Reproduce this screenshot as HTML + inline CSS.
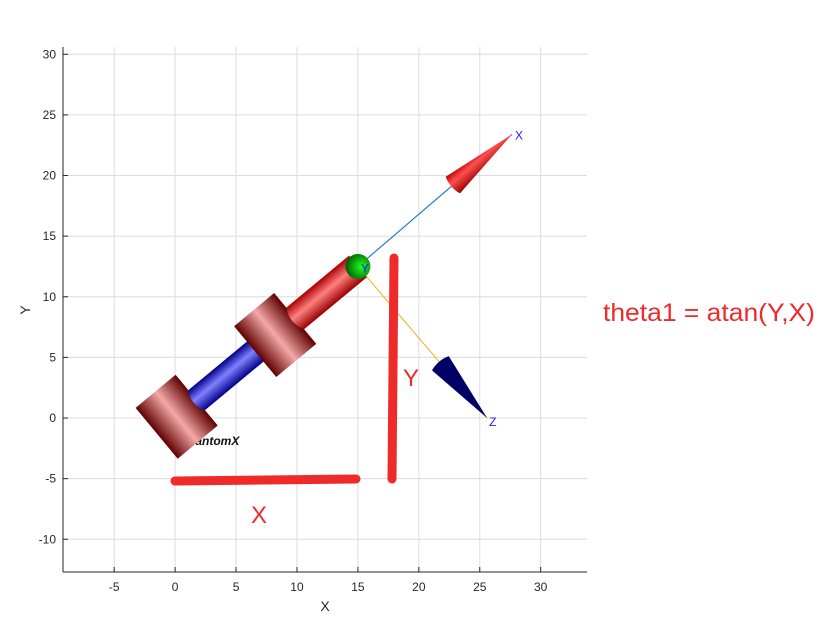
<!DOCTYPE html>
<html><head><meta charset="utf-8"><style>
body{margin:0;background:#fff;}
svg{display:block;font-family:"Liberation Sans",sans-serif;}
</style></head><body>
<svg width="834" height="643" id="svg">
<defs>
<linearGradient id="gRed" x1="0" y1="0" x2="1" y2="0"><stop offset="0" stop-color="#600000"/><stop offset="0.5" stop-color="#f4a8a8"/><stop offset="1" stop-color="#600000"/></linearGradient>
<linearGradient id="gBlue" x1="0" y1="0" x2="0" y2="1"><stop offset="0" stop-color="#00008a"/><stop offset="0.45" stop-color="#8080ff"/><stop offset="1" stop-color="#00008a"/></linearGradient>
<linearGradient id="gLink" x1="0" y1="0" x2="0" y2="1"><stop offset="0" stop-color="#a00"/><stop offset="0.45" stop-color="#ff8080"/><stop offset="1" stop-color="#900"/></linearGradient>
<radialGradient id="gGreen" cx="0.6" cy="0.6" r="0.6"><stop offset="0" stop-color="#2f2"/><stop offset="1" stop-color="#060"/></radialGradient>
<linearGradient id="gCone" x1="0" y1="0" x2="0" y2="1"><stop offset="0" stop-color="#b00"/><stop offset="0.4" stop-color="#ff5050"/><stop offset="1" stop-color="#900"/></linearGradient>
</defs>
<g id="grid"></g>
<g id="axes"></g>
<g id="robot"></g>
<g id="anno"></g>
</svg>
<script>
const xTicks=[-5,0,5,10,15,20,25,30];
const yTicks=[-10,-5,0,5,10,15,20,25,30];
const joint=[15,12.5];
const xAxisTip=[27.65,23.4];
const zAxisTip=[25.6,0];
const xlim=[-9.2,33.8], ylim=[-12.7,30.6];
const L=63,R=587,T=47,B=572;
const px=x=>L+(x-xlim[0])/(xlim[1]-xlim[0])*(R-L);
const py=y=>B-(y-ylim[0])/(ylim[1]-ylim[0])*(B-T);
const NS="http://www.w3.org/2000/svg";
function mk(tag,attrs,parent,txt){const e=document.createElementNS(NS,tag);for(const k in attrs)e.setAttribute(k,attrs[k]);if(txt!==undefined)e.textContent=txt;parent.appendChild(e);return e;}
const grid=document.getElementById('grid'),axes=document.getElementById('axes');
xTicks.forEach(t=>{
 const g=mk('line',{x1:px(t),x2:px(t),y1:T,y2:B,stroke:'#dcdcdc','stroke-width':1},grid);
 
 
 mk('line',{x1:px(t),x2:px(t),y1:B,y2:B-5,stroke:'#262626'},axes);
 const l=mk('text',{x:px(t),y:B+19,'text-anchor':'middle','font-size':12,fill:'#262626'},axes,String(t));
 
 
});
yTicks.forEach(t=>{
 const g=mk('line',{x1:L,x2:R,y1:py(t),y2:py(t),stroke:'#dcdcdc','stroke-width':1},grid);
 
 
 mk('line',{x1:L,x2:L+5,y1:py(t),y2:py(t),stroke:'#262626'},axes);
 const l=mk('text',{x:L-7,y:py(t)+4,'text-anchor':'end','font-size':12,fill:'#262626'},axes,String(t));
 
 
});
mk('line',{x1:L,x2:R,y1:B,y2:B,stroke:'#262626'},axes);
mk('line',{x1:L,x2:L,y1:T,y2:B,stroke:'#262626'},axes);
const xl=mk('text',{x:325,y:611,'text-anchor':'middle','font-size':14,fill:'#262626'},axes,'X');


const yl=mk('text',{x:0,y:0,'text-anchor':'middle','font-size':14,fill:'#262626',transform:'translate(30,310) rotate(-90)'},axes,'Y');



const rb=document.getElementById('robot');
const ox=px(0),oy=py(0),jx=px(joint[0]),jy=py(joint[1]);
const len=Math.hypot(jx-ox,jy-oy),ang=Math.atan2(jy-oy,jx-ox)*180/Math.PI;
const nm=mk('text',{x:180,y:445,'font-size':12,'font-weight':'bold','font-style':'italic',fill:'#111'},rb,'PhantomX');


const xa=mk('line',{x1:jx,y1:jy,x2:px(xAxisTip[0]),y2:py(xAxisTip[1]),stroke:'#0072bd','stroke-width':1},rb);


const za=mk('line',{x1:jx,y1:jy,x2:px(zAxisTip[0]),y2:py(zAxisTip[1]),stroke:'#edb120','stroke-width':1},rb);


function cone(tip,fill,name,size){
 const tx=px(tip[0]),ty=py(tip[1]);const a=Math.atan2(ty-jy,tx-jx)*180/Math.PI;
 const g=mk('g',{transform:`translate(${tx},${ty}) rotate(${a})`},rb);
 
 
 mk('path',{d:`M0,0 L${-size},${-11} Q${-size-4},0 ${-size},11 Z`,fill:fill},g);
}
cone(xAxisTip,'url(#gCone)','x-axis-cone',78);
cone(zAxisTip,'#000066','z-axis-cone',72);
const arm=mk('g',{transform:`translate(${ox},${oy}) rotate(${ang})`},rb);


mk('rect',{x:20,y:-13,width:95,height:26,fill:'url(#gBlue)'},arm);
mk('rect',{x:150,y:-14,width:len-150,height:28,fill:'url(#gLink)'},arm);
function block(u0,name){
 const p=mk('path',{d:`M${u0},-33 L${u0+52},-33 L${u0+52},-14 Q${u0+44},0 ${u0+52},14 L${u0+52},33 L${u0},33 Z`,fill:'url(#gRed)'},arm);
 
 
}
block(-24,'base-block');
block(104,'joint-block');
const sp=mk('circle',{cx:len,cy:0,r:12.5,fill:'url(#gGreen)'},arm);


const lbls=[['Y',jx+3,jy+6,'y-frame-label'],['X',px(xAxisTip[0])+3,py(xAxisTip[1])+5,'x-frame-label'],['Z',px(zAxisTip[0])+2,py(zAxisTip[1])+8,'z-frame-label']];
lbls.forEach(l=>{const t=mk('text',{x:l[1],y:l[2],'font-size':12,fill:'#1a1aff'},rb,l[0]);
 
 });
const an=document.getElementById('anno');
const h=mk('line',{x1:175,y1:481,x2:356,y2:479,stroke:'#ee2a2a','stroke-width':9,'stroke-linecap':'round'},an);


const v=mk('line',{x1:394,y1:258,x2:392,y2:479,stroke:'#ee2a2a','stroke-width':9,'stroke-linecap':'round'},an);


[['X',259,523,'x-annotation-label'],['Y',411,386,'y-annotation-label']].forEach(a=>{
 const t=mk('text',{x:a[1],y:a[2],'font-size':24,fill:'#ee2a2a','text-anchor':'middle'},an,a[0]);
 
 
});
const th=mk('text',{x:603,y:321,'font-size':25,fill:'#ee2a2a',textLength:212,lengthAdjust:'spacingAndGlyphs'},an,'theta1 = atan(Y,X)');


</script>
</body></html>
